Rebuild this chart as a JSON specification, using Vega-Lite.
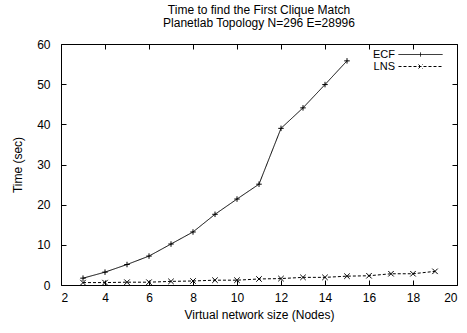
{
  "$schema": "https://vega.github.io/schema/vega-lite/v6.json",
  "autosize": "none",
  "width": 396,
  "height": 241,
  "padding": {"left": 61, "top": 44, "right": 10, "bottom": 48},
  "background": "white",
  "config": {
    "font": "Liberation Sans",
    "view": {"stroke": "black", "strokeWidth": 1},
    "axis": {"grid": false, "domain": false, "tickColor": "black", "labelColor": "black", "titleColor": "black", "labelFont": "Liberation Sans", "titleFont": "Liberation Sans", "labelFontSize": 12, "titleFontSize": 12, "titleFontWeight": "normal"}
  },
  "title": {
    "text": ["Time to find the First Clique Match", "Planetlab Topology N=296 E=28996"],
    "fontSize": 12,
    "fontWeight": "normal",
    "font": "Liberation Sans",
    "color": "black",
    "anchor": "middle",
    "offset": 8,
    "lineHeight": 13
  },
  "data": {
    "values": [
      {"series": "ECF", "x": 3, "t": 1.7},
      {"series": "ECF", "x": 4, "t": 3.2},
      {"series": "ECF", "x": 5, "t": 5.1},
      {"series": "ECF", "x": 6, "t": 7.2},
      {"series": "ECF", "x": 7, "t": 10.2},
      {"series": "ECF", "x": 8, "t": 13.2},
      {"series": "ECF", "x": 9, "t": 17.6},
      {"series": "ECF", "x": 10, "t": 21.4},
      {"series": "ECF", "x": 11, "t": 25.1},
      {"series": "ECF", "x": 12, "t": 39.0},
      {"series": "ECF", "x": 13, "t": 44.1},
      {"series": "ECF", "x": 14, "t": 49.9},
      {"series": "ECF", "x": 15, "t": 55.8},
      {"series": "LNS", "x": 3, "t": 0.6},
      {"series": "LNS", "x": 4, "t": 0.6},
      {"series": "LNS", "x": 5, "t": 0.7},
      {"series": "LNS", "x": 6, "t": 0.7},
      {"series": "LNS", "x": 7, "t": 0.9},
      {"series": "LNS", "x": 8, "t": 1.0},
      {"series": "LNS", "x": 9, "t": 1.2},
      {"series": "LNS", "x": 10, "t": 1.2},
      {"series": "LNS", "x": 11, "t": 1.5},
      {"series": "LNS", "x": 12, "t": 1.6},
      {"series": "LNS", "x": 13, "t": 1.9},
      {"series": "LNS", "x": 14, "t": 1.9},
      {"series": "LNS", "x": 15, "t": 2.2},
      {"series": "LNS", "x": 16, "t": 2.3},
      {"series": "LNS", "x": 17, "t": 2.8},
      {"series": "LNS", "x": 18, "t": 2.8},
      {"series": "LNS", "x": 19, "t": 3.4}
    ]
  },
  "layer": [
    {
      "mark": {"type": "line", "color": "black", "strokeWidth": 1},
      "encoding": {
        "x": {"field": "x", "type": "quantitative", "scale": {"domain": [2, 20], "nice": false},
          "axis": {"orient": "bottom", "values": [2,4,6,8,10,12,14,16,18,20], "tickSize": -5, "labelPadding": 12, "title": "Virtual network size (Nodes)", "titlePadding": 6}},
        "y": {"field": "t", "type": "quantitative", "scale": {"domain": [0, 60], "nice": false},
          "axis": {"orient": "left", "values": [0,10,20,30,40,50,60], "tickSize": -5, "labelPadding": 16, "title": "Time (sec)", "titlePadding": 12}},
        "strokeDash": {"field": "series", "type": "nominal", "scale": {"domain": ["ECF", "LNS"], "range": [[1, 0], [3, 2]]}, "legend": null},
        "detail": {"field": "series"}
      }
    },
    {
      "mark": {"type": "point", "filled": false, "stroke": "black", "strokeWidth": 1, "opacity": 1},
      "encoding": {
        "x": {"field": "x", "type": "quantitative", "scale": {"domain": [2, 20], "nice": false},
          "axis": {"orient": "top", "values": [2,4,6,8,10,12,14,16,18,20], "tickSize": -5, "labels": false, "title": null}},
        "y": {"field": "t", "type": "quantitative", "scale": {"domain": [0, 60], "nice": false},
          "axis": {"orient": "right", "values": [0,10,20,30,40,50,60], "tickSize": -5, "labels": false, "title": null}},
        "shape": {"field": "series", "type": "nominal", "scale": {"domain": ["ECF", "LNS"], "range": ["M-1,0H1M0,-1V1", "M-1,-1L1,1M-1,1L1,-1"]}, "legend": null},
        "size": {"value": 30}
      }
    },
    {
      "transform": [{"filter": "false"}],
      "mark": {"type": "point", "filled": false, "stroke": "black", "strokeWidth": 1},
      "encoding": {
        "shape": {"field": "series", "type": "nominal", "scale": {"domain": ["ECF", "LNS"], "range": ["M-4.4,0H4.4M0,-0.4V0.4", "M-4.4,0H4.4M-0.4,-0.4L0.4,0.4M-0.4,0.4L0.4,-0.4"]},
          "legend": {"title": null, "orient": "none", "legendX": 354, "legendY": 5, "symbolSize": 100, "symbolStrokeColor": "black", "symbolStrokeWidth": 1, "labelFontSize": 11, "labelColor": "black", "labelAlign": "right", "labelOffset": -31, "rowPadding": 0, "symbolOpacity": 1}},
        "strokeDash": {"field": "series", "type": "nominal", "scale": {"domain": ["ECF", "LNS"], "range": [[1, 0], [3, 2]]}}
      }
    }
  ],
  "resolve": {"axis": {"x": "independent", "y": "independent"}, "scale": {"shape": "independent", "strokeDash": "independent"}}
}
